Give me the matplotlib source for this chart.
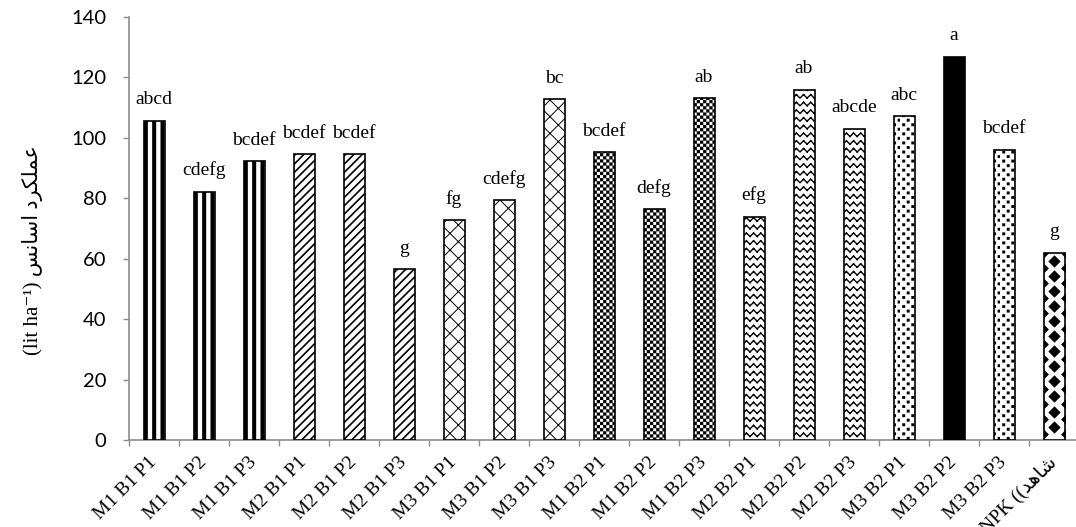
import warnings
import numpy as np
import matplotlib
matplotlib.use('Agg')
import matplotlib.pyplot as plt
import matplotlib.hatch as mhatch
from matplotlib.path import Path

warnings.filterwarnings('ignore')

# ---------------- data ----------------
categories = ['M1 B1 P1', 'M1 B1 P2', 'M1 B1 P3', 'M2 B1 P1', 'M2 B1 P2', 'M2 B1 P3',
              'M3 B1 P1', 'M3 B1 P2', 'M3 B1 P3', 'M1 B2 P1', 'M1 B2 P2', 'M1 B2 P3',
              'M2 B2 P1', 'M2 B2 P2', 'M2 B2 P3', 'M3 B2 P1', 'M3 B2 P2', 'M3 B2 P3',
              'NPK ((' + '\uFEAA\uFEEB\uFE8E\uFEB7']
values = [105.6, 82.2, 92.3, 94.6, 94.6, 56.5, 72.7, 79.3, 112.8, 95.3, 76.4, 113.1,
          73.9, 115.9, 103.0, 107.2, 126.9, 96.1, 62.0]
letters = ['abcd', 'cdefg', 'bcdef', 'bcdef', 'bcdef', 'g', 'fg', 'cdefg', 'bc', 'bcdef',
           'defg', 'ab', 'efg', 'ab', 'abcde', 'abc', 'a', 'bcdef', 'g']
yticks = [0, 20, 40, 60, 80, 100, 120, 140]

# y-label: "(lit ha-1) اسانس عملکرد" written in visual order with presentation forms
ylabel = ('(lit ha\u207B\u00B9) '
          + '\uFEB2\uFEE7\uFE8E\uFEB3\uFE8D' + ' '
          + '\uFEA9\uFEAE\uFB91\uFEE0\uFEE4\uFECB')


# ---------------- custom hatches ----------------
class ZigZagHatch(mhatch.HatchPatternBase):
    def __init__(self, hatch, density):
        k = hatch.count('z')
        self.rows = 13 * k
        self.periods = 14 * k
        self.num_vertices = self.rows * self.periods * 4

    def set_vertices_and_codes(self, vertices, codes):
        amp = 0.45 / self.rows
        pts = []
        for r in range(self.rows):
            y0 = (r + 0.25) / self.rows
            for p in range(self.periods):
                x0 = p / self.periods
                xm = (p + 0.5) / self.periods
                x1 = (p + 1) / self.periods
                pts += [(x0, y0), (xm, y0 + amp), (xm, y0 + amp), (x1, y0)]
        vertices[:] = np.array(pts)
        codes[0::2] = Path.MOVETO
        codes[1::2] = Path.LINETO


class CheckerHatch(mhatch.HatchPatternBase):
    def __init__(self, hatch, density):
        k = hatch.count('c')
        self.n = 32 * k
        self.num_vertices = (self.n * self.n // 2) * 5

    def set_vertices_and_codes(self, vertices, codes):
        s = 1.0 / self.n
        sq = np.array([[0, 0], [1, 0], [1, 1], [0, 1], [0, 0]], float) * s
        parts = []
        for i in range(self.n):
            for j in range(self.n):
                if (i + j) % 2 == 0:
                    parts.append(sq + [i * s, j * s])
        vertices[:] = np.concatenate(parts)
        codes[:] = np.tile([Path.MOVETO, Path.LINETO, Path.LINETO, Path.LINETO,
                            Path.CLOSEPOLY], len(parts))


class DotHatch(mhatch.HatchPatternBase):
    def __init__(self, hatch, density):
        k = hatch.count('q')
        self.rows = 22 * k
        self.cols = 11 * k
        self.num_vertices = self.rows * self.cols * 5

    def set_vertices_and_codes(self, vertices, codes):
        side = 0.028
        sq = np.array([[0, 0], [1, 0], [1, 1], [0, 1], [0, 0]], float) * side
        parts = []
        for r in range(self.rows):
            shift = 0.5 if r % 2 else 0.0
            for c in range(self.cols):
                x = (c + shift + 0.25) / self.cols
                y = (r + 0.25) / self.rows
                parts.append(sq + [x, y])
        vertices[:] = np.concatenate(parts)
        codes[:] = np.tile([Path.MOVETO, Path.LINETO, Path.LINETO, Path.LINETO,
                            Path.CLOSEPOLY], len(parts))


mhatch._hatch_types.extend([ZigZagHatch, CheckerHatch, DotHatch])

# ---------------- styling ----------------
plt.rcParams['hatch.color'] = 'black'
serif = ['Liberation Serif', 'DejaVu Sans']

fig = plt.figure(figsize=(10.76, 5.27), dpi=100)
ax = fig.add_axes([129 / 1076, 87 / 527, 950 / 1076, 423 / 527])

x = np.arange(len(categories))
bars = ax.bar(x, values, width=0.42, color='white', edgecolor='black', linewidth=1.2,
              zorder=3)

styles = (
    [('||', 2.9)] * 3 +
    [('////', 1.2)] * 3 +
    [('xx', 0.7)] * 3 +
    [('c', 0.1)] * 3 +
    [('z', 1.0)] * 3 +
    [('q', 0.1), (None, 0), ('q', 0.1)] +
    [(None, 0)]
)
for i, (b, (h, lw)) in enumerate(zip(bars, styles)):
    if h is not None:
        b.set_hatch(h)
        if hasattr(b, 'set_hatch_linewidth'):
            b.set_hatch_linewidth(lw)
bars[16].set_facecolor('black')

# NPK: column of diamonds
npk = len(categories) - 1
dy = np.arange(4.4, values[npk], 5.0)
d1 = ax.scatter(np.full(len(dy), x[npk]), dy, marker='D', s=6.3 ** 2, color='black',
                linewidths=0, zorder=4)
d1.set_clip_path(bars[npk])
dy2 = np.arange(1.9, values[npk], 5.0)
for off in (-0.21, 0.21):
    d2 = ax.scatter(np.full(len(dy2), x[npk] + off), dy2, marker='D', s=4.5 ** 2,
                    color='black', linewidths=0, zorder=4)
    d2.set_clip_path(bars[npk])

# letters
for xi, v, t in zip(x, values, letters):
    ax.annotate(t, (xi, v), xytext=(0, 9), textcoords='offset points', ha='center',
                va='bottom', fontsize=14, family=serif, color='black')

ax.set_xlim(-0.5, len(categories) - 0.5)
ax.set_ylim(0, 140)
ax.set_yticks(yticks)
ax.set_yticklabels([str(t) for t in yticks], fontsize=14.5, family='Lato')

ax.set_xticks(x)
ax.set_xticklabels(categories, rotation=45, ha='right', va='center',
                   rotation_mode='anchor', fontsize=14, family=serif)
ax.set_xticks(np.arange(-0.5, len(categories), 1.0), minor=True)
ax.tick_params(axis='x', which='major', length=0, pad=14)
ax.tick_params(axis='x', which='minor', length=4, width=1, color='#8c8c8c',
               direction='out')
ax.tick_params(axis='y', which='major', length=4.5, width=1, color='#8c8c8c',
               direction='out', pad=12)

for s in ('top', 'right'):
    ax.spines[s].set_visible(False)
for s in ('left', 'bottom'):
    ax.spines[s].set_color('#8c8c8c')
    ax.spines[s].set_linewidth(1.2)
ax.spines['left'].set_zorder(5)

fig.text(33 / 1076, 1 - 250 / 527, ylabel, rotation=90, ha='center', va='center',
         fontsize=15, family=serif)

fig.savefig('out.png', dpi=100)
